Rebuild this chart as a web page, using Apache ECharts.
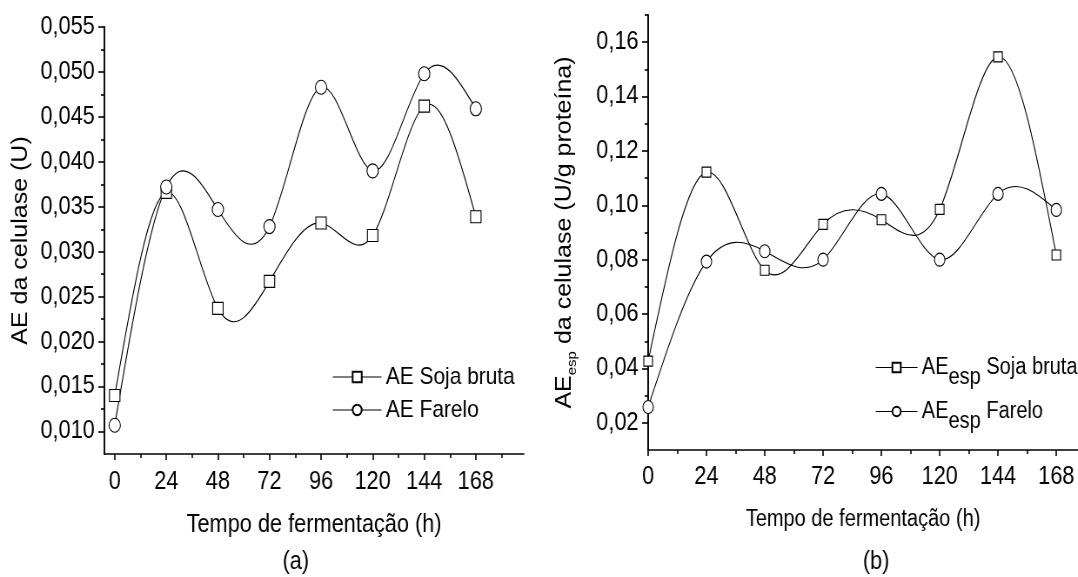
<!DOCTYPE html>
<html>
<head>
<meta charset="utf-8">
<script src="https://cdn.jsdelivr.net/npm/echarts@6.0.0/dist/echarts.min.js"></script>
<style>
  html, body { margin: 0; padding: 0; background: #fff; overflow: hidden; }
  /* the original figure is squeezed sideways, so draw wider and squeeze */
  #main { width: 1239px; height: 577px; transform: scaleX(0.87); transform-origin: 0 0; }
</style>
</head>
<body>
<div id="main"></div>
<script>
// tempo de fermentação (h)
var hours = [0, 24, 48, 72, 96, 120, 144, 168];

// (a) AE da celulase (U)
var aeSoja = [0.0140, 0.0366, 0.0237, 0.0267, 0.0332, 0.0318, 0.0462, 0.0339];
var aeFarelo = [0.0107, 0.0372, 0.0347, 0.0328, 0.0483, 0.0390, 0.0498, 0.0459];

// (b) AEesp da celulase (U/g proteína)
var espSoja = [0.0427, 0.1122, 0.0761, 0.0930, 0.0947, 0.0985, 0.1546, 0.0817];
var espFarelo = [0.0258, 0.0793, 0.0831, 0.0800, 0.1042, 0.0800, 0.1042, 0.0983];

// ticks
var xTicks = [0, 24, 48, 72, 96, 120, 144, 168];
var xMinorA = [12, 36, 60, 84, 108, 132, 156, 180];
var xMinorB = [12, 36, 60, 84, 108, 132, 156];
var yTicksA = [0.010, 0.015, 0.020, 0.025, 0.030, 0.035, 0.040, 0.045, 0.050, 0.055];
var yMinorA = [0.0125, 0.0175, 0.0225, 0.0275, 0.0325, 0.0375, 0.0425, 0.0475, 0.0525];
var yTicksB = [0.02, 0.04, 0.06, 0.08, 0.10, 0.12, 0.14, 0.16];
var yMinorB = [0.03, 0.05, 0.07, 0.09, 0.11, 0.13, 0.15, 0.17];

var FONT = "'Liberation Sans', Arial, sans-serif";

function pairs(xs, ys) {
  return xs.map(function (x, i) { return [x, ys[i]]; });
}

// natural cubic spline slopes at each point (like the spline connection of the original plot)
function splineSlopes(xs, ys) {
  var n = xs.length, h = [], M = new Array(n).fill(0);
  for (var i = 0; i < n - 1; i++) h.push(xs[i + 1] - xs[i]);
  var a = [], b = [], c = [], d = [];
  for (var i = 1; i < n - 1; i++) {
    a.push(h[i - 1]); b.push(2 * (h[i - 1] + h[i])); c.push(h[i]);
    d.push(6 * ((ys[i + 1] - ys[i]) / h[i] - (ys[i] - ys[i - 1]) / h[i - 1]));
  }
  var m = b.length;
  for (var i = 1; i < m; i++) {
    var w = a[i] / b[i - 1];
    b[i] -= w * c[i - 1]; d[i] -= w * d[i - 1];
  }
  for (var i = m - 1; i >= 0; i--) {
    M[i + 1] = (d[i] - (i < m - 1 ? c[i] * M[i + 2] : 0)) / b[i];
  }
  var segs = [];
  for (var i = 0; i < n - 1; i++) {
    var s = (ys[i + 1] - ys[i]) / h[i];
    segs.push({
      d0: s - h[i] * (2 * M[i] + M[i + 1]) / 6,
      d1: s + h[i] * (M[i] + 2 * M[i + 1]) / 6
    });
  }
  return segs;
}

function curveSeries(xs, ys, xi, yi) {
  var segs = splineSlopes(xs, ys);
  return {
    type: 'custom', xAxisIndex: xi, yAxisIndex: yi, clip: true, z: 2,
    silent: true, data: pairs(xs, ys),
    renderItem: function (params, api) {
      var i = params.dataIndex;
      if (i >= xs.length - 1) return;
      var h = xs[i + 1] - xs[i];
      var p0 = api.coord([xs[i], ys[i]]);
      var p1 = api.coord([xs[i + 1], ys[i + 1]]);
      var c0 = api.coord([xs[i] + h / 3, ys[i] + segs[i].d0 * h / 3]);
      var c1 = api.coord([xs[i + 1] - h / 3, ys[i + 1] - segs[i].d1 * h / 3]);
      return {
        type: 'bezierCurve',
        shape: { x1: p0[0], y1: p0[1], x2: p1[0], y2: p1[1], cpx1: c0[0], cpy1: c0[1], cpx2: c1[0], cpy2: c1[1] },
        style: { stroke: '#000', fill: null, lineWidth: 1.1 }
      };
    }
  };
}

function mainX(grid, min, max, margin, name, gap, size) {
  return {
    type: 'value', gridIndex: grid, min: min, max: max,
    name: name, nameLocation: 'middle', nameGap: gap,
    nameTextStyle: { fontFamily: FONT, fontSize: size, color: '#000' },
    axisLine: { onZero: false, lineStyle: { color: '#000', width: 1.6 } },
    axisTick: { show: true, length: 6, lineStyle: { color: '#000', width: 1.6 }, customValues: xTicks },
    axisLabel: { margin: margin, fontFamily: FONT, fontSize: 25, color: '#000', customValues: xTicks },
    splitLine: { show: false }
  };
}

function mainY(grid, min, max, ticks, digits, name, gap, nameStyle) {
  return {
    type: 'value', gridIndex: grid, min: min, max: max, position: 'left',
    name: name, nameLocation: 'middle', nameGap: gap, nameTextStyle: nameStyle,
    axisLine: { onZero: false, lineStyle: { color: '#000', width: 1.9 } },
    axisTick: { show: true, length: 7, lineStyle: { color: '#000', width: 1.6 }, customValues: ticks },
    axisLabel: {
      margin: 11, fontFamily: FONT, fontSize: 25, color: '#000', customValues: ticks,
      formatter: function (v) { return v.toFixed(digits).replace('.', ','); }
    },
    splitLine: { show: false }
  };
}

function minorAxis(grid, min, max, vals, pos, len) {
  return {
    type: 'value', gridIndex: grid, min: min, max: max, position: pos,
    axisLine: { show: false, onZero: false },
    axisTick: { show: true, length: len, lineStyle: { color: '#000', width: 1.6 }, customValues: vals },
    axisLabel: { show: false },
    splitLine: { show: false }
  };
}

// markers only; the curve is drawn by curveSeries
function markSeries(name, x, y, data, symbol, size, z) {
  return {
    name: name, type: 'line', xAxisIndex: x, yAxisIndex: y,
    data: data, symbol: symbol, symbolSize: size,
    showAllSymbol: true, clip: true, z: z,
    lineStyle: { width: 0, opacity: 0 },
    itemStyle: { color: '#fff', borderColor: '#000', borderWidth: 1.1 },
    emphasis: { disabled: true }
  };
}

var legendLine = { color: '#000', width: 1.1, opacity: 1 };

var chart = echarts.init(document.getElementById('main'), null, { renderer: 'canvas' });

var option = {
  backgroundColor: '#fff',
  animation: false,
  grid: [
    { left: 120, top: 27, width: 482, height: 427 },
    { left: 745, top: 15, right: 0, height: 435 }
  ],
  xAxis: [
    mainX(0, -4.8, 190.3, 16, 'Tempo de fermentação (h)', 59, 25),
    minorAxis(0, -4.8, 190.3, xMinorA, 'bottom', 4),
    mainX(1, 0, 176.9, 15, 'Tempo de fermentação (h)', 58, 23),
    minorAxis(1, 0, 176.9, xMinorB, 'bottom', 4)
  ],
  yAxis: [
    mainY(0, 0.0075, 0.055, yTicksA, 3, 'AE da celulase (U)', 83,
      { fontFamily: FONT, fontSize: 25, color: '#000' }),
    minorAxis(0, 0.0075, 0.055, yMinorA, 'left', 4),
    mainY(1, 0.01, 0.17, yTicksB, 2, '{m|AE}{s|esp}{m| da celulase (U/g proteína)}', 80, {
      fontFamily: FONT, fontSize: 25, color: '#000',
      rich: {
        m: { fontFamily: FONT, fontSize: 25, color: '#000', verticalAlign: 'middle' },
        s: { fontFamily: FONT, fontSize: 15, color: '#000', padding: [16, 0, 0, 0], verticalAlign: 'middle' }
      }
    }),
    minorAxis(1, 0.01, 0.17, yMinorB, 'left', 4)
  ],
  legend: [
    {
      data: ['AE Soja bruta', 'AE Farelo'],
      orient: 'vertical', left: 377, top: 360,
      itemWidth: 56, itemHeight: 13, itemGap: 9, selectedMode: false,
      lineStyle: legendLine,
      textStyle: { fontFamily: FONT, fontSize: 24, color: '#000', lineHeight: 24 }
    },
    {
      data: ['AEesp Soja bruta', 'AEesp Farelo'],
      orient: 'vertical', left: 1001, top: 341,
      itemWidth: 48, itemHeight: 12, itemGap: 1, selectedMode: false,
      lineStyle: legendLine,
      formatter: function (n) { return '{m|AE}{s|esp}{m|' + n.replace('AEesp', '') + '}'; },
      textStyle: {
        fontFamily: FONT, fontSize: 23, color: '#000',
        rich: {
          m: { fontFamily: FONT, fontSize: 23, color: '#000', lineHeight: 22, verticalAlign: 'middle' },
          s: { fontFamily: FONT, fontSize: 23, color: '#000', lineHeight: 22, padding: [20, 0, 0, 0], verticalAlign: 'middle' }
        }
      }
    }
  ],
  graphic: [
    { type: 'text', x: 340, y: 562, style: { text: '(a)', font: "25px 'Liberation Sans', Arial", fill: '#000', align: 'center', verticalAlign: 'middle' } },
    { type: 'text', x: 1007, y: 562, style: { text: '(b)', font: "25px 'Liberation Sans', Arial", fill: '#000', align: 'center', verticalAlign: 'middle' } }
  ],
  series: [
    curveSeries(hours, aeSoja, 0, 0),
    curveSeries(hours, aeFarelo, 0, 0),
    curveSeries(hours, espSoja, 2, 2),
    curveSeries(hours, espFarelo, 2, 2),
    markSeries('AE Soja bruta', 0, 0, pairs(hours, aeSoja), 'rect', [12, 12], 4),
    markSeries('AE Farelo', 0, 0, pairs(hours, aeFarelo), 'circle', [13, 14], 5),
    markSeries('AEesp Soja bruta', 2, 2, pairs(hours, espSoja), 'rect', [10, 10], 4),
    markSeries('AEesp Farelo', 2, 2, pairs(hours, espFarelo), 'circle', [12, 13], 5)
  ]
};

chart.setOption(option);
</script>
</body>
</html>
